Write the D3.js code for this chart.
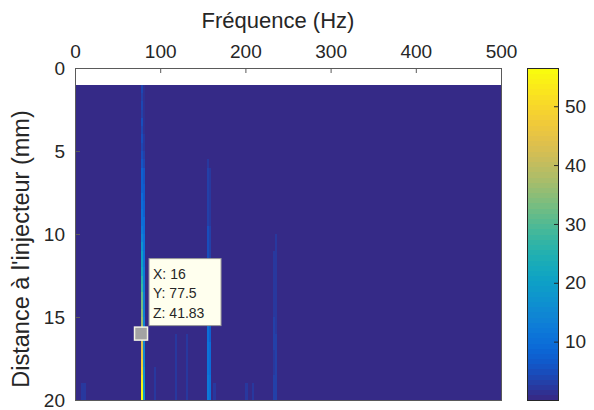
<!DOCTYPE html>
<html><head><meta charset="utf-8">
<script src="https://cdn.jsdelivr.net/npm/d3@7"></script>
<style>
html,body{margin:0;padding:0;background:#fff;}
text{font-family:"Liberation Sans",Arial,Helvetica,sans-serif;fill:#262626;}
</style></head>
<body><svg id="c" width="594" height="410"></svg>
<script>
// ---- data ----
const freqStep = 2.5;
const freqDomain = [0, 500];
const distances = [1,1.5,2,2.5,3,3.5,4,4.5,5,5.5,6,6.5,7,7.5,8,8.5,9,9.5,10,10.5,
  11,11.5,12,12.5,13,13.5,14,14.5,15,15.5,16,16.5,17,17.5,18,18.5,19,19.5];
const distStep = 0.5;
const distDomain = [0, 20];
const background = 0.8;
const cLim = [0.08, 56.5];
const xTicks = [0,100,200,300,400,500];
const yTicks = [0,5,10,15,20];
const cTicks = [10,20,30,40,50];

// strong ridge columns: frequency (Hz) and value for each distance row
const ridgeFreqs = [77.5, 80, 155, 157.5, 232.5, 235];
const ridge775 = [4,3,4,3,5,4,5,4,5,6, 8,8,8,9,9,10,10,12,14,17,
  20,21,23,26,28,31,33,35,37,39, 41.83,44,46,48,50,53,55,56.4];
const ridge80 = [1,1,1,1,1,1,2,2,3,4, 6,6,7,7,8,8,9,9,10,10,
  11,11,12,12,12,13,13,13,14,14, 14,15,15,15,16,16,17,18];
const ridge155 = [0.8,0.8,0.8,0.8,0.8,0.8,0.8,0.8,0.8,2, 3,3,3,3,3,3,3,4.5,4.5,4.5,
  4.5,4.5,4.5,4.5,7,7,8,8,10,10, 10,11,11,11,11,12,12,12];
const ridge1575 = [0.8,0.8,0.8,0.8,0.8,0.8,0.8,0.8,0.8,0.8, 2,2,2,2,2,2,2,3,3,3,
  3,3,3,3,5,5,6,6,8,8, 8,9,9,9,9,10,10,10];
const ridge2325 = [0.8,0.8,0.8,0.8,0.8,0.8,0.8,0.8,0.8,0.8, 0.8,0.8,0.8,0.8,0.8,0.8,0.8,0.8,0.8,0.8,
  2.5,2.5,2.5,2.5,2.5,2.5,2.5,2.5,3,3, 3,3,2.5,2.5,2.5,3,3,3];
const ridge235 = [0.8,0.8,0.8,0.8,0.8,0.8,0.8,0.8,0.8,0.8, 0.8,0.8,0.8,0.8,0.8,0.8,0.8,0.8,2.5,2.5,
  2.5,2.5,2.5,2.5,2.5,2.5,2.5,2.5,2.5,2.5, 3,3,3,3,3,3,3,3];
const ridgeValues = [ridge775, ridge80, ridge155, ridge1575, ridge2325, ridge235];

// faint short streaks near the bottom: frequency, starting distance, level
const faintFreqs = [7.5, 10, 92.5, 117.5, 130, 162.5, 200, 207.5];
const faintStart = [19, 19, 18, 16, 16, 19, 19, 19];
const faintLevel = [2, 2, 2, 2, 2.5, 2.5, 2, 2];

// tooltip (data cursor)
const cursorPoint = {dist: 16, freq: 77.5, value: 41.83};
const cursorLines = ["X: 16", "Y: 77.5", "Z: 41.83"];

// ---- build grid ----
const nF = Math.round((freqDomain[1]-freqDomain[0])/freqStep);
const freqs = d3.range(nF).map(i => freqDomain[0] + i*freqStep);
const grid = [];
freqs.forEach(f => {
  distances.forEach((d, j) => {
    let v = background;
    const ri = ridgeFreqs.indexOf(f);
    if (ri >= 0) v = ridgeValues[ri][j];
    const fi = faintFreqs.indexOf(f);
    if (fi >= 0 && d >= faintStart[fi]) v = faintLevel[fi];
    grid.push({f, d, v});
  });
});

// ---- colour ----
const parulaStops = ["#352a87","#0363e1","#1485d4","#06a7c6","#38b99e","#92bf73","#d9ba56","#fcce2e","#f9fb0e"];
const parulaInterp = d3.interpolateRgbBasis(parulaStops);
const nColors = 64;
const parula = d3.range(nColors).map(i => parulaInterp(i/(nColors-1)));
const cNorm = d3.scaleLinear().domain(cLim).range([0,1]).clamp(true);
const color = v => parula[Math.min(nColors-1, Math.floor(cNorm(v)*nColors))];

// ---- layout ----
const svg = d3.select("#c");
const x = d3.scaleLinear().domain(freqDomain).range([75, 501]);
const y = d3.scaleLinear().domain(distDomain).range([68, 400]);

svg.append("g").attr("shape-rendering","crispEdges")
  .selectAll("rect").data(grid).join("rect")
  .attr("x", d => x(d.f)).attr("y", d => y(d.d))
  .attr("width", d => x(d.f+freqStep)-x(d.f)+0.5)
  .attr("height", d => y(d.d+distStep)-y(d.d)+0.5)
  .attr("fill", d => color(d.v));

// box
const axCol = "#262626";
svg.append("rect").attr("x", x(0)).attr("y", y(0))
  .attr("width", x(500)-x(0)).attr("height", y(20)-y(0))
  .attr("fill","none").attr("stroke","#5a5a5a").attr("stroke-width",1)
  .attr("shape-rendering","crispEdges");

// x axis (top)
const xa = svg.append("g").attr("transform", `translate(0,${y(0)})`)
  .call(d3.axisTop(x).tickValues(xTicks).tickSizeInner(-5).tickSizeOuter(0).tickPadding(10));
xa.select(".domain").remove();
xa.selectAll("line").attr("stroke","#5a5a5a");
xa.selectAll("text").attr("font-size","19px").attr("fill",axCol)
  .style("font-family","'Liberation Sans',Arial,sans-serif");

// y axis (left)
const ya = svg.append("g").attr("transform", `translate(${x(0)},0)`)
  .call(d3.axisLeft(y).tickValues(yTicks).tickSizeInner(-5).tickSizeOuter(0).tickPadding(10));
ya.select(".domain").remove();
ya.selectAll("line").attr("stroke","#5a5a5a");
ya.selectAll("text").attr("font-size","19px").attr("fill",axCol)
  .style("font-family","'Liberation Sans',Arial,sans-serif");

// axis titles
svg.append("text").attr("x", 278).attr("y", 28).attr("text-anchor","middle")
  .attr("font-size","22px").text("Fréquence (Hz)");
svg.append("text").attr("transform", `translate(29,249) rotate(-90)`)
  .attr("text-anchor","middle").attr("font-size","23.5px").text("Distance à l'injecteur (mm)");

// colorbar
const cb = {x0: 527, x1: 558};
const cy = d3.scaleLinear().domain(cLim).range([400, 68]);
const cg = svg.append("g").attr("shape-rendering","crispEdges");
cg.selectAll("rect").data(parula).join("rect")
  .attr("x", cb.x0)
  .attr("y", (c,i) => cy(cLim[0] + (i+1)*(cLim[1]-cLim[0])/nColors))
  .attr("width", cb.x1-cb.x0)
  .attr("height", (c,i) => cy(cLim[0] + i*(cLim[1]-cLim[0])/nColors) - cy(cLim[0] + (i+1)*(cLim[1]-cLim[0])/nColors) + 0.6)
  .attr("fill", c => c);
svg.append("rect").attr("x", cb.x0).attr("y", 68).attr("width", cb.x1-cb.x0).attr("height", 332)
  .attr("fill","none").attr("stroke",axCol).attr("stroke-width",1).attr("shape-rendering","crispEdges");
const ca = svg.append("g").attr("transform", `translate(${cb.x1},0)`)
  .call(d3.axisRight(cy).tickValues(cTicks).tickSizeInner(-4).tickSizeOuter(0).tickPadding(7));
ca.select(".domain").remove();
ca.selectAll("line").attr("stroke",axCol);
ca.selectAll("text").attr("font-size","19px").attr("fill",axCol)
  .style("font-family","'Liberation Sans',Arial,sans-serif");

// data cursor marker
const mx = x(cursorPoint.freq), my = y(cursorPoint.dist);
svg.append("rect").attr("x", mx-6.5).attr("y", my-6.5).attr("width",13).attr("height",13)
  .attr("fill","#a3a3a3").attr("stroke","#f2f2e4").attr("stroke-width",1.5);
// tooltip box
const tb = svg.append("g").attr("transform", `translate(${mx+8},${my-75})`);
tb.append("rect").attr("x",0).attr("y",0).attr("width",72).attr("height",67)
  .attr("fill","#ffffee").attr("stroke","#9a9a9a").attr("stroke-width",1);
tb.selectAll("text.t").data(cursorLines).join("text").attr("class","t")
  .attr("x",4).attr("y",(d,i)=>20+i*19.5).attr("font-size","14px").attr("fill","#1a1a1a").text(d=>d);
</script></body></html>
